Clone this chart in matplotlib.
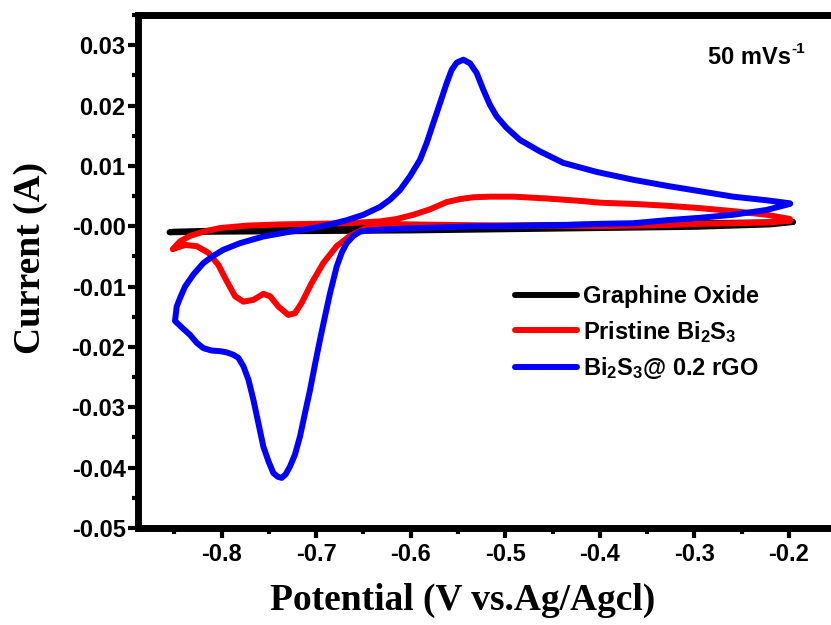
import matplotlib
matplotlib.use("Agg")
import matplotlib.pyplot as plt
from matplotlib.ticker import MultipleLocator, FormatStrFormatter

plt.rcParams["font.family"] = "Liberation Sans"
plt.rcParams["font.weight"] = "bold"
plt.rcParams["mathtext.fontset"] = "custom"
plt.rcParams["mathtext.bf"] = "Liberation Sans:bold"
plt.rcParams["mathtext.rm"] = "Liberation Sans:bold"
plt.rcParams["mathtext.default"] = "bf"

# ---- data (potential in V, current in A), in sweep order ----
go_potential = [-0.196, -0.22, -0.30, -0.40, -0.50, -0.60, -0.70, -0.80, -0.855,
                -0.85, -0.80, -0.70, -0.60, -0.50, -0.40, -0.30, -0.196]
go_current = [0.0007, 0.0003, -0.0001, -0.0003, -0.0005, -0.0007, -0.0008, -0.0009, -0.0010,
              -0.0009, -0.0007, -0.0004, -0.0001, 0.0001, 0.0003, 0.0005, 0.0007]

bi2s3_potential = [-0.199, -0.224, -0.259, -0.294, -0.329, -0.365, -0.400, -0.45, -0.50,
                   -0.55, -0.60, -0.6325, -0.6501, -0.6642, -0.6783, -0.6924, -0.7047,
                   -0.7153, -0.7223, -0.7294, -0.7399, -0.7487, -0.7558, -0.7664,
                   -0.7769, -0.7857, -0.7945, -0.8034, -0.8139, -0.8263, -0.8386, -0.8516,
                   -0.8439, -0.8333, -0.8192, -0.8016, -0.7734, -0.7382, -0.7029, -0.6677,
                   -0.6325, -0.6148, -0.5972, -0.5796, -0.5620, -0.5479, -0.5338, -0.5162,
                   -0.4915, -0.4563, -0.4210, -0.3999, -0.3647, -0.3294, -0.2942, -0.2590,
                   -0.2237, -0.199]
bi2s3_current = [0.0009, 0.0006, 0.0005, 0.0004, 0.0002, 0.0001, 0.0000, 0.0001, 0.0001,
                 0.0002, 0.0003, 0.0004, -0.0005, -0.0016, -0.0033, -0.0061, -0.0094,
                 -0.0127, -0.0144, -0.0147, -0.0133, -0.0116, -0.0112, -0.0122,
                 -0.0125, -0.0116, -0.0091, -0.0064, -0.0044, -0.0033, -0.0031, -0.0038,
                 -0.0025, -0.0016, -0.0009, -0.0003, 0.0001, 0.0003, 0.0004, 0.0005,
                 0.0008, 0.0012, 0.0019, 0.0028, 0.0040, 0.0045, 0.0048, 0.0049,
                 0.0049, 0.0046, 0.0042, 0.0039, 0.0037, 0.0034, 0.0030, 0.0025,
                 0.0019, 0.0012]

rgo_potential = [-0.199, -0.2237, -0.2590, -0.2942, -0.3294, -0.3647, -0.3999, -0.4351,
                 -0.4704, -0.5056, -0.5303, -0.5700, -0.6100, -0.6325, -0.6448, -0.6536,
                 -0.6606, -0.6677, -0.6730, -0.6783, -0.6818, -0.6853, -0.6906, -0.6959,
                 -0.7012, -0.7064, -0.7117, -0.7170, -0.7223, -0.7276, -0.7322, -0.7364,
                 -0.7406, -0.7452, -0.7505, -0.7558, -0.7611, -0.7664, -0.7716, -0.7769,
                 -0.7822, -0.7875, -0.7945, -0.8016, -0.8104, -0.8192, -0.8263, -0.8333,
                 -0.8411, -0.8492,
                 -0.8474, -0.8439, -0.8386, -0.8298, -0.8192, -0.8086, -0.7981, -0.7804,
                 -0.7558, -0.7311, -0.7029, -0.6853, -0.6677, -0.6501, -0.6325, -0.6219,
                 -0.6113, -0.6007, -0.5902, -0.5831, -0.5761, -0.5690, -0.5620, -0.5567,
                 -0.5514, -0.5444, -0.5373, -0.5303, -0.5232, -0.5162, -0.5091, -0.4986,
                 -0.4845, -0.4633, -0.4387, -0.4034, -0.3647, -0.3294, -0.2942, -0.2590,
                 -0.2237, -0.199]
rgo_current = [0.0037, 0.0027, 0.0019, 0.0014, 0.0010, 0.0005, 0.0004, 0.0002,
               0.0001, 0.0000, 0.0000, -0.0002, -0.0004, -0.0006, -0.0007, -0.0009,
               -0.0016, -0.0028, -0.0044, -0.0067, -0.0089, -0.0111, -0.0149, -0.0188,
               -0.0229, -0.0271, -0.0309, -0.0348, -0.0378, -0.0398, -0.0411, -0.0417,
               -0.0415, -0.0409, -0.0389, -0.0365, -0.0326, -0.0287, -0.0254, -0.0232,
               -0.0218, -0.0213, -0.0209, -0.0207, -0.0206, -0.0202, -0.0193, -0.0180,
               -0.0169, -0.0157,
               -0.0133, -0.0119, -0.0100, -0.0080, -0.0061, -0.0049, -0.0039, -0.0028,
               -0.0017, -0.0010, -0.0003, 0.0003, 0.0010, 0.0019, 0.0032, 0.0044,
               0.0060, 0.0083, 0.0110, 0.0138, 0.0171, 0.0204, 0.0237, 0.0259,
               0.0271, 0.0276, 0.0270, 0.0254, 0.0226, 0.0201, 0.0182, 0.0163,
               0.0143, 0.0124, 0.0105, 0.0090, 0.0077, 0.0067, 0.0058, 0.0049,
               0.0043, 0.0038]

labels = ["Graphine Oxide", "Pristine Bi$_2$S$_3$", "Bi$_2$S$_3$@ 0.2 rGO"]
colors = ["black", "red", "blue"]

fig = plt.figure(figsize=(8.31, 6.25), dpi=100)
ax = fig.add_axes([0.1661, 0.1552, 0.8403, 0.8208])

curves = [(go_potential, go_current), (bi2s3_potential, bi2s3_current),
          (rgo_potential, rgo_current)]
for (xv, yv), lab, col in zip(curves, labels, colors):
    ax.plot(xv, yv, color=col, lw=4.3, label=lab,
            solid_capstyle="round", solid_joinstyle="round")

ax.set_xlim(-0.8883, -0.15)
ax.set_ylim(-0.05, 0.035)

ax.xaxis.set_major_locator(MultipleLocator(0.1))
ax.xaxis.set_minor_locator(MultipleLocator(0.05))
ax.yaxis.set_major_locator(MultipleLocator(0.01))
ax.yaxis.set_minor_locator(MultipleLocator(0.005))
ax.xaxis.set_major_formatter(FormatStrFormatter("%.1f"))
ax.yaxis.set_major_formatter(FormatStrFormatter("%.2f"))

for side in ["left", "bottom", "top"]:
    ax.spines[side].set_linewidth(5)
ax.spines["right"].set_visible(False)

ax.tick_params(which="major", direction="out", length=7, width=3, labelsize=17)
ax.tick_params(which="minor", direction="out", length=4.5, width=3)
ax.tick_params(axis="y", which="major", pad=2)
ax.tick_params(axis="x", which="major", pad=4)
for lbl in ax.get_xticklabels() + ax.get_yticklabels():
    lbl.set_fontweight("bold")

ax.set_xlabel("Potential (V vs.Ag/Agcl)", family="Liberation Serif",
              fontweight="bold", fontsize=27, va="center")
ax.xaxis.set_label_coords(0.4654, -0.1404)
ax.set_ylabel("Current (A)", family="Liberation Serif", fontweight="bold",
              fontsize=27, va="center")
ax.yaxis.set_label_coords(-0.1547, 0.526)

rate = ax.text(0.8163, 0.918, "50 mVs", transform=ax.transAxes,
               fontsize=17, fontweight="bold", va="center", ha="left")
ax.annotate("-1", xy=(1.0, 1.0), xycoords=rate, xytext=(0.5, 2.5),
            textcoords="offset points", fontsize=11, fontweight="bold",
            ha="left", va="top")

leg = ax.legend(loc="upper left", bbox_to_anchor=(0.540, 0.4737), frameon=False,
                borderpad=0, borderaxespad=0, fontsize=17, handlelength=2.63,
                handletextpad=0.25, labelspacing=0.45)
for t in leg.get_texts():
    t.set_fontweight("bold")

fig.savefig("out.png", dpi=100)
